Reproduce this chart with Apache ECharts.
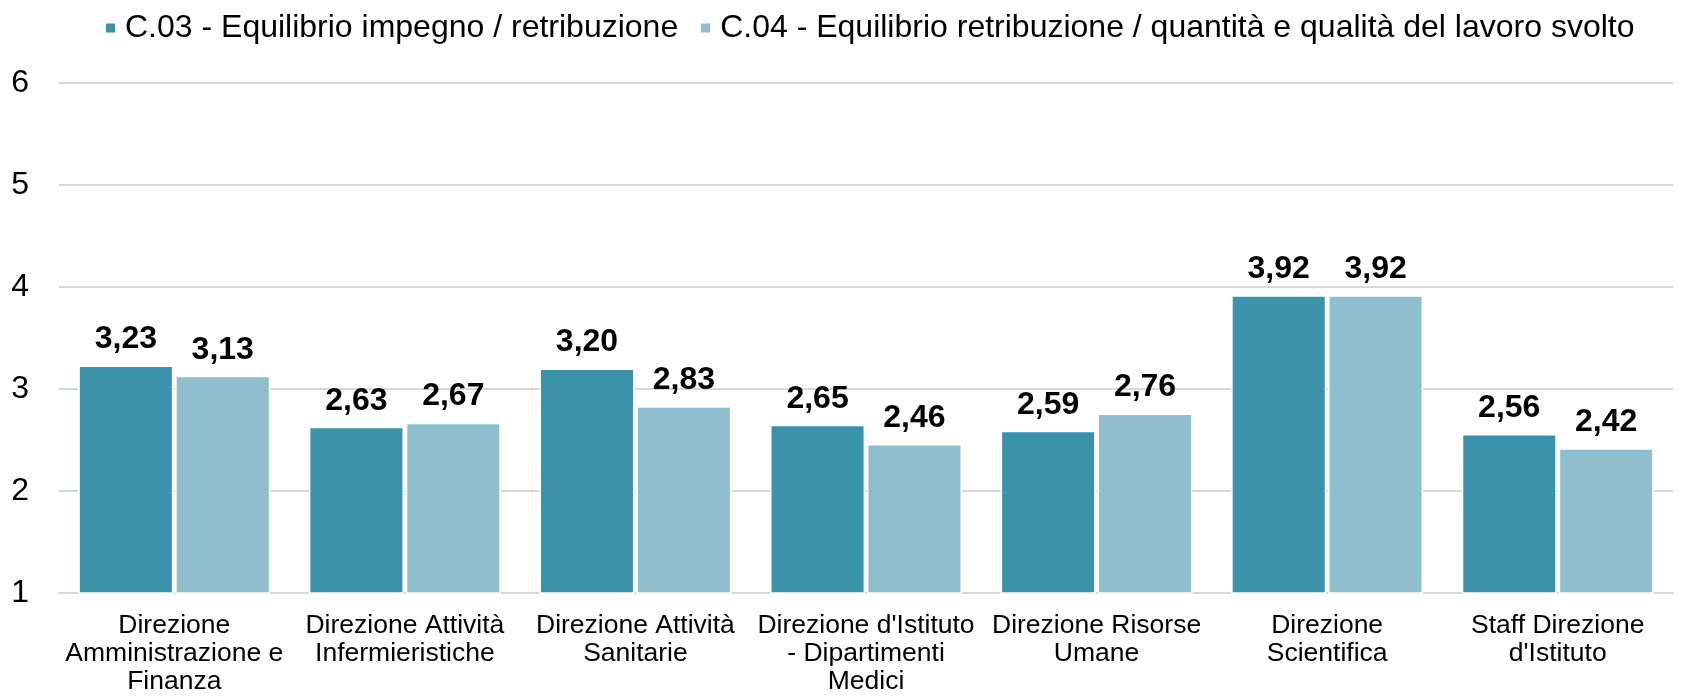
<!DOCTYPE html>
<html lang="it">

<head>
    <meta charset="UTF-8">
    <title>Equilibrio impegno / retribuzione</title>
    <style>
        html, body {
            margin: 0;
            padding: 0;
            background: #fff;
        }

        #chart {
            width: 1682px;
            height: 697px;
        }
    </style>
</head>

<body>
    <div id="chart"></div>

    <script src="https://cdn.jsdelivr.net/npm/echarts@6/dist/echarts.min.js"></script>
    <script>
        // dati
        var categories = [
            'Direzione\nAmministrazione e\nFinanza',
            'Direzione Attività\nInfermieristiche',
            'Direzione Attività\nSanitarie',
            "Direzione d'Istituto\n- Dipartimenti\nMedici",
            'Direzione Risorse\nUmane',
            'Direzione\nScientifica',
            "Staff Direzione\nd'Istituto"
        ];
        var seriesNames = [
            'C.03 - Equilibrio impegno / retribuzione',
            'C.04 - Equilibrio retribuzione / quantità e qualità del lavoro svolto'
        ];
        var c03 = [3.23, 2.63, 3.20, 2.65, 2.59, 3.92, 2.56];
        var c04 = [3.13, 2.67, 2.83, 2.46, 2.76, 3.92, 2.42];
        var yTicks = [1, 2, 3, 4, 5, 6];

        var font = 'Arial, "Liberation Sans", sans-serif';
        var chart = echarts.init(document.getElementById('chart'));

        function barSeries(name, data, color) {
            return {
                name: name,
                type: 'bar',
                data: data,
                barWidth: 95,
                barGap: '2%',
                itemStyle: {
                    color: color,
                    borderColor: '#fff',
                    borderWidth: 1.5
                },
                label: {
                    show: true,
                    position: 'top',
                    distance: 10,
                    color: '#000',
                    fontFamily: font,
                    fontWeight: 'bold',
                    fontSize: 32,
                    formatter: function (p) {
                        return p.value.toFixed(2).replace('.', ',');
                    }
                }
            };
        }

        var option = {
            animation: false,
            legend: {
                left: 99,
                top: 7,
                icon: 'rect',
                itemWidth: 11,
                itemHeight: 11,
                itemGap: 21,
                textStyle: {
                    fontFamily: font,
                    fontSize: 32,
                    color: '#000',
                    padding: [0, 0, 0, 4]
                },
                data: seriesNames
            },
            grid: {
                left: 59,
                right: 9,
                top: 83,
                bottom: 104
            },
            xAxis: {
                type: 'category',
                data: categories,
                axisLine: { show: true, lineStyle: { color: '#d9d9d9', width: 2 } },
                axisTick: { show: false },
                axisLabel: {
                    interval: 0,
                    margin: 19,
                    color: '#000',
                    fontFamily: font,
                    fontSize: 26.5,
                    lineHeight: 28
                }
            },
            yAxis: {
                type: 'value',
                min: yTicks[0],
                max: yTicks[yTicks.length - 1],
                interval: 1,
                axisLine: { show: false },
                axisTick: { show: false },
                splitLine: { lineStyle: { color: '#d9d9d9', width: 2 } },
                axisLabel: {
                    margin: 30,
                    color: '#000',
                    fontFamily: font,
                    fontSize: 32
                }
            },
            series: [
                barSeries(seriesNames[0], c03, '#3a92ab'),
                barSeries(seriesNames[1], c04, '#8fbecf')
            ]
        };

        chart.setOption(option, true);
    </script>
</body>

</html>
